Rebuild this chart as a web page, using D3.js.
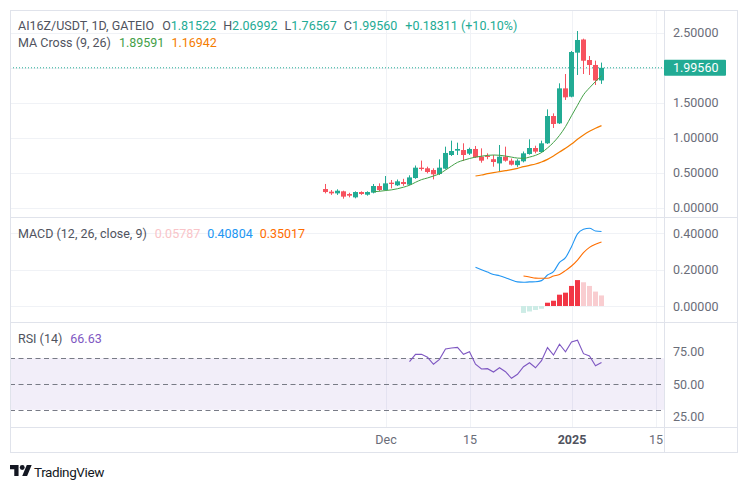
<!DOCTYPE html>
<html><head><meta charset="utf-8">
<script src="https://cdn.jsdelivr.net/npm/d3@7"></script>
<style>
html,body{margin:0;padding:0;background:#fff;}
svg{display:block;}
text{font-family:Roboto,"Noto Sans",sans-serif;}
</style></head><body>
<svg id="c" width="748" height="489"></svg>
<script>
// ---------- DATA ----------
const dates = ["2024-11-21","2024-11-22","2024-11-23","2024-11-24","2024-11-25","2024-11-26","2024-11-27","2024-11-28","2024-11-29","2024-11-30",
"2024-12-01","2024-12-02","2024-12-03","2024-12-04","2024-12-05","2024-12-06","2024-12-07","2024-12-08","2024-12-09","2024-12-10",
"2024-12-11","2024-12-12","2024-12-13","2024-12-14","2024-12-15","2024-12-16","2024-12-17","2024-12-18","2024-12-19","2024-12-20",
"2024-12-21","2024-12-22","2024-12-23","2024-12-24","2024-12-25","2024-12-26","2024-12-27","2024-12-28","2024-12-29","2024-12-30",
"2024-12-31","2025-01-01","2025-01-02","2025-01-03","2025-01-04","2025-01-05","2025-01-06"];
const open  = [.264,.226,.202,.231,.193,.145,.221,.183,.212,.307,.25,.355,.317,.364,.326,.421,.569,.56,.536,.479,.555,.75,.812,.821,.769,.836,.726,.736,.69,.63,.726,.669,.605,.66,.764,.85,.793,.917,1.307,1.202,1.702,1.583,2.212,2.40,2.107,2.036,1.81522];
const high  = [.336,.25,.26,.24,.21,.231,.231,.231,.336,.345,.45,.393,.40,.41,.46,.60,.67,.583,.56,.688,.869,.955,.926,.917,.855,.879,.845,.774,.75,.893,.869,.70,.69,.80,.974,.883,.955,1.402,1.345,1.774,1.907,2.236,2.521,2.412,2.164,2.098,2.06992];
const low   = [.202,.18,.18,.126,.145,.131,.18,.169,.202,.231,.24,.274,.307,.31,.317,.41,.526,.488,.402,.464,.545,.736,.75,.664,.75,.707,.64,.69,.583,.512,.655,.60,.58,.645,.755,.774,.783,.907,1.136,1.193,1.536,1.574,1.893,1.907,1.893,1.75,1.76567];
const close = [.221,.202,.24,.155,.169,.221,.193,.221,.307,.25,.345,.336,.374,.336,.43,.569,.55,.507,.474,.569,.779,.807,.836,.75,.836,.717,.669,.722,.65,.726,.669,.612,.67,.774,.85,.798,.917,1.307,1.193,1.702,1.574,2.221,2.393,2.097,2.036,1.815,1.9956];
const ma9   = [null,null,null,null,null,null,null,null,.225,.232,.242,.252,.268,.29,.318,.36,.398,.422,.45,.482,.535,.592,.645,.675,.70,.72,.733,.745,.75,.746,.735,.72,.706,.702,.72,.745,.785,.85,.93,1.03,1.155,1.31,1.46,1.61,1.71,1.80,1.88];
const ma26  = [null,null,null,null,null,null,null,null,null,null,null,null,null,null,null,null,null,null,null,null,null,null,null,null,null,.45,.464,.483,.498,.512,.526,.54,.56,.583,.602,.621,.65,.688,.736,.793,.845,.907,.974,1.036,1.088,1.131,1.16942];
const macd  = [null,null,null,null,null,null,null,null,null,null,null,null,null,null,null,null,null,null,null,null,null,null,null,null,null,.212,.199,.186,.173,.166,.155,.142,.132,.13,.132,.133,.139,.17,.188,.239,.265,.325,.395,.42,.426,.411,.40804];
const signal= [null,null,null,null,null,null,null,null,null,null,null,null,null,null,null,null,null,null,null,null,null,null,null,null,null,null,null,null,null,null,null,null,null,.164,.159,.153,.152,.152,.164,.173,.194,.219,.252,.292,.321,.338,.35017];
const hist  = [null,null,null,null,null,null,null,null,null,null,null,null,null,null,null,null,null,null,null,null,null,null,null,null,null,null,null,null,null,null,null,null,null,-.038,-.03,-.022,-.015,.018,.029,.062,.073,.11,.142,.13,.11,.079,.05787];
const rsi   = [null,null,null,null,null,null,null,null,null,null,null,null,null,null,67.3,73.0,73.0,70.7,65.3,69.1,77.1,77.9,78.4,73.0,75.0,65.3,61.6,61.9,59.3,62.6,59.5,54.4,57.5,63.4,66.5,62.6,68.1,78.2,72.5,80.8,75.0,82.6,83.9,73.5,71.7,64.2,66.63];
const priceGrid = [0,0.5,1,1.5,2,2.5];
const priceTicks = [0,0.5,1,1.5,2.5];
const macdTicks = [0,0.2,0.4];
const rsiTicks = [25,50,75];
const rsiBands = [70,50,30];
const timeTicks = ["2024-12-01","2024-12-15","2025-01-01","2025-01-15"];
const timeLabels = ["Dec","15","2025","15"];
const lastClose = 1.9956;
const changeText = "+0.18311 (+10.10%)";

// ---------- LAYOUT ----------
const svg = d3.select("#c");
const L = 10, R = 664, T = 10, FR = 738, FB = 453, AXY = 427;
const P1 = [10, 216.5], P2 = [216.5, 322], P3 = [322, 427];
const UP = "#22ab94", DN = "#f7525f";
const FS = "12.5px";
const parse = d3.utcParse("%Y-%m-%d");
const D = dates.map(parse);
const TT = timeTicks.map(parse);
const f5 = d3.format(".5f"), f2 = d3.format(".2f");

const x = d3.scaleUtc().domain([parse("2024-12-01"), parse("2025-01-15")]).range([385.5, 655.5]);
const yP = d3.scaleLinear().domain([0, 2.5]).range([207.5, 32.5]);
const yM = d3.scaleLinear().domain([0, 0.4]).range([306, 233]);
const yR = d3.scaleLinear().domain([30, 70]).range([409.8, 358.2]);

svg.append("rect").attr("width",748).attr("height",489).attr("fill","#fff");

const defs = svg.append("defs");
[["c1",P1],["c2",P2],["c3",P3]].forEach(([id,p])=>{
  defs.append("clipPath").attr("id",id).append("rect").attr("x",L).attr("y",p[0]).attr("width",R-L).attr("height",p[1]-p[0]);
});

// grid
const grid = svg.append("g").attr("stroke","#f0f2f6").attr("stroke-width",1);
TT.forEach(t=>{
  const gx = Math.round(x(t))+0.5;
  grid.append("line").attr("x1",gx).attr("x2",gx).attr("y1",T).attr("y2",AXY);
});
priceGrid.forEach(v=>grid.append("line").attr("x1",L).attr("x2",R).attr("y1",Math.round(yP(v))+0.5).attr("y2",Math.round(yP(v))+0.5));
macdTicks.forEach(v=>grid.append("line").attr("x1",L).attr("x2",R).attr("y1",Math.round(yM(v))+0.5).attr("y2",Math.round(yM(v))+0.5));

// ---------- PANE 1: candles ----------
const g1 = svg.append("g").attr("clip-path","url(#c1)");
const idx = d3.range(dates.length);
g1.append("line").attr("x1",L).attr("x2",R).attr("y1",yP(lastClose)).attr("y2",yP(lastClose))
  .attr("stroke",UP).attr("stroke-width",1).attr("stroke-dasharray","1,2");
const cg = g1.selectAll("g.cd").data(idx).join("g").attr("class","cd");
cg.append("line")
  .attr("x1",i=>x(D[i])).attr("x2",i=>x(D[i]))
  .attr("y1",i=>yP(high[i])).attr("y2",i=>yP(low[i]))
  .attr("stroke",i=>close[i]>=open[i]?UP:DN).attr("stroke-width",1);
cg.append("rect")
  .attr("x",i=>x(D[i])-2.5).attr("width",5)
  .attr("y",i=>yP(Math.max(open[i],close[i])))
  .attr("height",i=>Math.max(1,Math.abs(yP(open[i])-yP(close[i]))))
  .attr("fill",i=>close[i]>=open[i]?UP:DN);

const lineGen = (ys, arr) => d3.line().defined(i=>arr[i]!=null).x(i=>x(D[i])).y(i=>ys(arr[i])).curve(d3.curveMonotoneX);
g1.append("path").attr("d",lineGen(yP,ma9)(idx)).attr("fill","none").attr("stroke","#43a047").attr("stroke-width",1);
g1.append("path").attr("d",lineGen(yP,ma26)(idx)).attr("fill","none").attr("stroke","#f57c00").attr("stroke-width",1.2);

// ---------- PANE 2: MACD ----------
const g2 = svg.append("g").attr("clip-path","url(#c2)");
const histColor = i => {
  const v=hist[i], p=hist[i-1];
  if(v<0) return "#cdece6";
  return (p==null||v>=p) ? "#f23645" : "#f9cdd0";
};
g2.selectAll("rect.h").data(idx.filter(i=>hist[i]!=null)).join("rect").attr("class","h")
  .attr("x",i=>x(D[i])-2.5).attr("width",5)
  .attr("y",i=>Math.min(yM(0),yM(hist[i])))
  .attr("height",i=>Math.abs(yM(hist[i])-yM(0)))
  .attr("fill",histColor);
g2.append("path").attr("d",lineGen(yM,macd)(idx)).attr("fill","none").attr("stroke","#2196f3").attr("stroke-width",1.1);
g2.append("path").attr("d",lineGen(yM,signal)(idx)).attr("fill","none").attr("stroke","#ff6d00").attr("stroke-width",1.1);

// ---------- PANE 3: RSI ----------
const g3 = svg.append("g").attr("clip-path","url(#c3)");
g3.append("rect").attr("x",L).attr("width",R-L).attr("y",yR(70)).attr("height",yR(30)-yR(70)).attr("fill","rgba(126,87,194,0.1)");
rsiBands.forEach(v=>g3.append("line").attr("x1",L).attr("x2",R).attr("y1",Math.round(yR(v))+0.5).attr("y2",Math.round(yR(v))+0.5)
  .attr("stroke","#787b86").attr("stroke-dasharray","5,3.5"));
g3.append("path").attr("d",d3.line().defined(i=>rsi[i]!=null).x(i=>x(D[i])).y(i=>yR(rsi[i]))(idx))
  .attr("fill","none").attr("stroke","#7e57c2").attr("stroke-width",1.1);

// ---------- frame & separators ----------
const fr = svg.append("g").attr("stroke","#e0e3eb").attr("stroke-width",1).attr("fill","none");
fr.append("rect").attr("x",L+0.5).attr("y",T+0.5).attr("width",FR-L-1).attr("height",FB-T-1);
fr.append("line").attr("x1",R+0.5).attr("x2",R+0.5).attr("y1",T).attr("y2",FB);
[P1[1],P2[1],P3[1]].forEach(yv=>fr.append("line").attr("x1",L).attr("x2",FR).attr("y1",Math.round(yv)+0.5).attr("y2",Math.round(yv)+0.5));

// ---------- axes ----------
const axStyle = g => { g.select(".domain").remove(); g.selectAll("text").attr("fill","#6a6d78").style("font-size",FS).style("font-family","Roboto,'Noto Sans',sans-serif"); };
svg.append("g").attr("transform",`translate(${R},0)`).call(d3.axisRight(yP).tickValues(priceTicks).tickFormat(f5).tickSize(0).tickPadding(9)).call(axStyle);
svg.append("g").attr("transform",`translate(${R},0)`).call(d3.axisRight(yM).tickValues(macdTicks).tickFormat(f5).tickSize(0).tickPadding(9)).call(axStyle);
const yR2 = d3.scaleLinear().domain([25,75]).range([yR(25), yR(75)]);
svg.append("g").attr("transform",`translate(${R},0)`).call(d3.axisRight(yR2).tickValues(rsiTicks).tickFormat(f2).tickSize(0).tickPadding(9)).call(axStyle);

// price label
const pl = svg.append("g");
pl.append("rect").attr("x",R).attr("y",yP(lastClose)-8).attr("width",62).attr("height",16).attr("fill",UP).attr("rx",1);
pl.append("text").attr("x",R+9).attr("y",yP(lastClose)).attr("dy","0.35em").attr("fill","#fff").style("font-size",FS).text(f5(lastClose));

// time axis
const xa = svg.append("g").attr("transform",`translate(0,${AXY})`)
  .call(d3.axisBottom(x).tickValues(TT).tickFormat((d,i)=>timeLabels[i]).tickSize(0).tickPadding(8)).call(axStyle);
xa.selectAll("text").filter((d,i)=>timeLabels[i]==="2025").attr("fill","#50535e").style("font-weight","700");

// ---------- legends (flowing tspans) ----------
const TXT = "#50535e";
function legend(y, parts){
  const t = svg.append("text").attr("x",18).attr("y",y).style("font-size",FS);
  parts.forEach(([txt,col,gap])=>{
    t.append("tspan").attr("dx",gap||0).attr("fill",col).text(txt);
  });
}
legend(30, [["AI16Z/USDT, 1D, GATEIO",TXT],["O",TXT,8],[f5(open[46]),UP],["H",TXT,7],[f5(high[46]),UP],
  ["L",TXT,7],[f5(low[46]),UP],["C",TXT,7],[f5(close[46]),UP],[changeText,UP,8]]);
legend(46.5, [["MA Cross (9, 26)",TXT],["1.89591","#43a047",8],[f5(ma26[46]),"#f57c00",7]]);
legend(237.5, [["MACD (12, 26, close, 9)",TXT],[f5(hist[46]),"#f9c4c8",8],[f5(macd[46]),"#2196f3",7],[f5(signal[46]),"#ff6d00",7]]);
legend(342.5, [["RSI (14)",TXT],[f2(rsi[46]),"#7e57c2",8]]);

// ---------- TradingView logo ----------
const lg = svg.append("g").attr("transform","translate(10,462.6) scale(0.611)").attr("fill","#131722");
lg.append("path").attr("d","M14 22H7V11H0V4h14v18zM28 22h-8l7.5-18h8L28 22z");
lg.append("circle").attr("cx",20).attr("cy",8).attr("r",4);
svg.append("text").attr("x",34).attr("y",476.5).attr("fill","#131722").style("font-size","13.5px").style("letter-spacing","-0.4px").text("TradingView");
</script>
</body></html>
